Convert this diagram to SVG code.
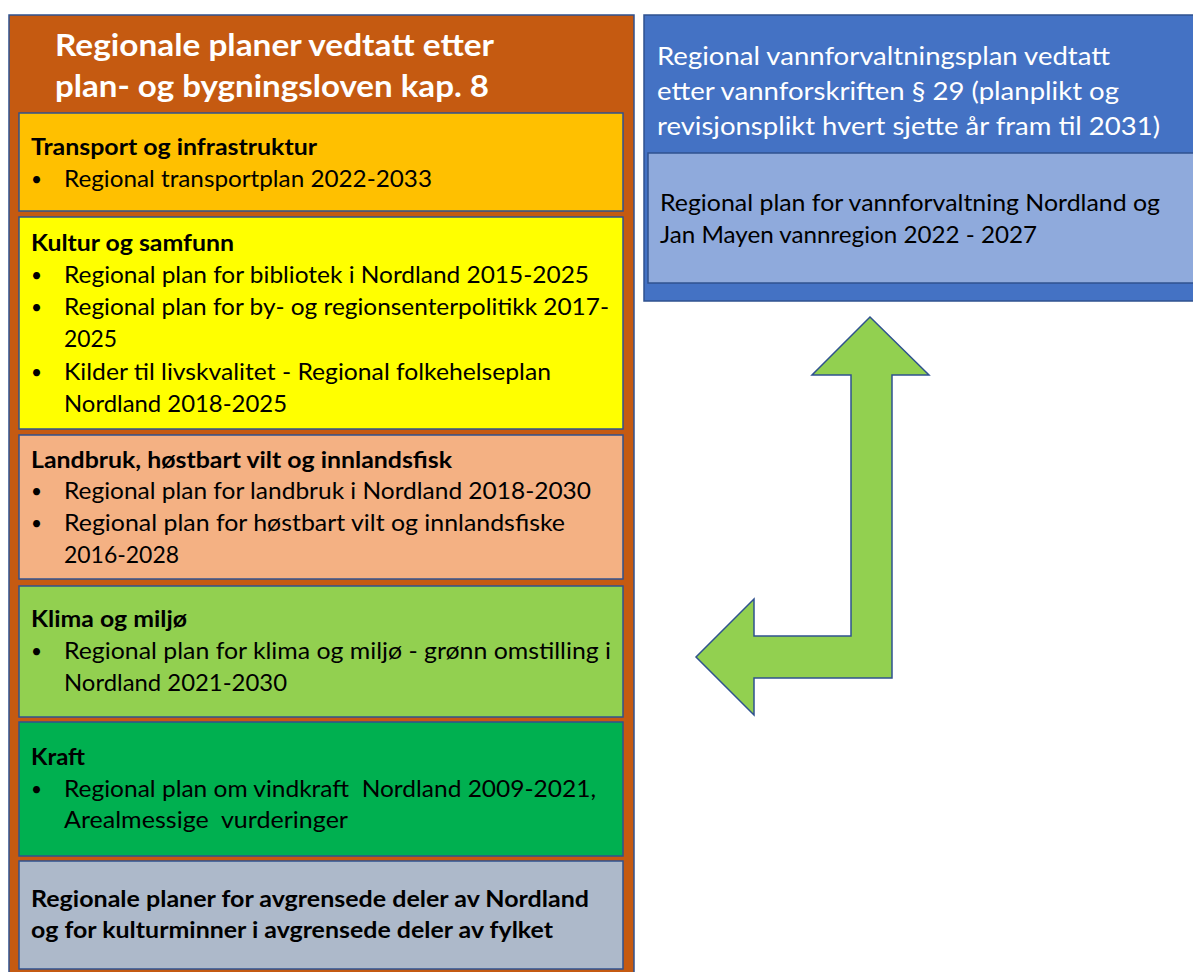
<svg xmlns="http://www.w3.org/2000/svg" width="1193" height="972" viewBox="0 0 1193 972">
<style>
.box{stroke:#2F528F;stroke-width:1.5}
text{font-family:Lato,"Liberation Sans",sans-serif;}
.t{font-size:23px;fill:#000}
.b{font-size:19px;fill:#000}
.h{font-size:23px;font-weight:bold;fill:#000}
.ti{font-size:30px;font-weight:bold;fill:#fff}
.w{font-size:25px;fill:#fff}
</style>
<rect width="1193" height="972" fill="#fff"/>
<g id="left-panel">
<rect class="box" x="9" y="15" width="625" height="970" fill="#C55A11"/>
<text class="ti" x="55" y="56" textLength="439" lengthAdjust="spacingAndGlyphs">Regionale planer vedtatt etter</text>
<text class="ti" x="55" y="97" textLength="434" lengthAdjust="spacingAndGlyphs">plan- og bygningsloven kap. 8</text>
</g>
<g id="transport">
<rect class="box" x="19" y="113" width="604" height="98" fill="#FFC000"/>
<text class="h" x="31" y="155" textLength="286" lengthAdjust="spacingAndGlyphs">Transport og infrastruktur</text>
<text class="b" x="31" y="186">•</text>
<text class="t" x="64" y="187" textLength="368" lengthAdjust="spacingAndGlyphs">Regional transportplan 2022-2033</text>
</g>
<g id="kultur">
<rect class="box" x="19" y="217" width="604" height="212" fill="#FFFF00"/>
<text class="h" x="31" y="251" textLength="203" lengthAdjust="spacingAndGlyphs">Kultur og samfunn</text>
<text class="b" x="31" y="282">•</text>
<text class="t" x="64" y="283" textLength="525" lengthAdjust="spacingAndGlyphs">Regional plan for bibliotek i Nordland 2015-2025</text>
<text class="b" x="31" y="314">•</text>
<text class="t" x="64" y="315" textLength="545" lengthAdjust="spacingAndGlyphs">Regional plan for by- og regionsenterpolitikk 2017-</text>
<text class="t" x="64" y="347" textLength="53" lengthAdjust="spacingAndGlyphs">2025</text>
<text class="b" x="31" y="379">•</text>
<text class="t" x="64" y="380" textLength="487" lengthAdjust="spacingAndGlyphs">Kilder til livskvalitet - Regional folkehelseplan</text>
<text class="t" x="64" y="412" textLength="223" lengthAdjust="spacingAndGlyphs">Nordland 2018-2025</text>
</g>
<g id="landbruk">
<rect class="box" x="19" y="435" width="604" height="144" fill="#F4B183"/>
<text class="h" x="31" y="468" textLength="421" lengthAdjust="spacingAndGlyphs">Landbruk, høstbart vilt og innlandsfisk</text>
<text class="b" x="31" y="498">•</text>
<text class="t" x="64" y="499" textLength="527" lengthAdjust="spacingAndGlyphs">Regional plan for landbruk i Nordland 2018-2030</text>
<text class="b" x="31" y="530">•</text>
<text class="t" x="64" y="531" textLength="501" lengthAdjust="spacingAndGlyphs">Regional plan for høstbart vilt og innlandsfiske</text>
<text class="t" x="64" y="563" textLength="115" lengthAdjust="spacingAndGlyphs">2016-2028</text>
</g>
<g id="klima">
<rect class="box" x="19" y="586" width="604" height="131" fill="#92D050"/>
<text class="h" x="31" y="627" textLength="156" lengthAdjust="spacingAndGlyphs">Klima og miljø</text>
<text class="b" x="31" y="658">•</text>
<text class="t" x="64" y="659" textLength="547" lengthAdjust="spacingAndGlyphs">Regional plan for klima og miljø - grønn omstilling i</text>
<text class="t" x="64" y="691" textLength="223" lengthAdjust="spacingAndGlyphs">Nordland 2021-2030</text>
</g>
<g id="kraft">
<rect class="box" x="19" y="722" width="604" height="134" fill="#00B050"/>
<text class="h" x="31" y="765" textLength="54" lengthAdjust="spacingAndGlyphs">Kraft</text>
<text class="b" x="31" y="796">•</text>
<text class="t" x="64" y="797" textLength="532" lengthAdjust="spacingAndGlyphs" xml:space="preserve">Regional plan om vindkraft  Nordland 2009-2021,</text>
<text class="t" x="64" y="828" textLength="284" lengthAdjust="spacingAndGlyphs" xml:space="preserve">Arealmessige  vurderinger</text>
</g>
<g id="avgrensede">
<rect class="box" x="19" y="861" width="604" height="108" fill="#ADB9CA"/>
<text class="h" x="31" y="907" textLength="558" lengthAdjust="spacingAndGlyphs">Regionale planer for avgrensede deler av Nordland</text>
<text class="h" x="31" y="938" textLength="522" lengthAdjust="spacingAndGlyphs">og for kulturminner i avgrensede deler av fylket</text>
</g>
<g id="vannforvaltning">
<rect class="box" x="644" y="15" width="560" height="286" fill="#4472C4"/>
<text class="w" x="657" y="65" textLength="453" lengthAdjust="spacingAndGlyphs">Regional vannforvaltningsplan vedtatt</text>
<text class="w" x="657" y="100" textLength="462" lengthAdjust="spacingAndGlyphs">etter vannforskriften § 29 (planplikt og</text>
<text class="w" x="657" y="135" textLength="503" lengthAdjust="spacingAndGlyphs">revisjonsplikt hvert sjette år fram til 2031)</text>
</g>
<g id="vannplan">
<rect class="box" x="648" y="153" width="556" height="130" fill="#8FAADC"/>
<text class="t" x="660" y="211" textLength="500" lengthAdjust="spacingAndGlyphs">Regional plan for vannforvaltning Nordland og</text>
<text class="t" x="660" y="243" textLength="377" lengthAdjust="spacingAndGlyphs">Jan Mayen vannregion 2022 - 2027</text>
</g>
<g id="connectors">
<polygon points="870,317 929,375 892,375 892,678 754,678 754,715 696,657 754,599 754,636 851,636 851,375 812,375" fill="#92D050" stroke="#2F528F" stroke-width="1.5"/>
</g>
</svg>
